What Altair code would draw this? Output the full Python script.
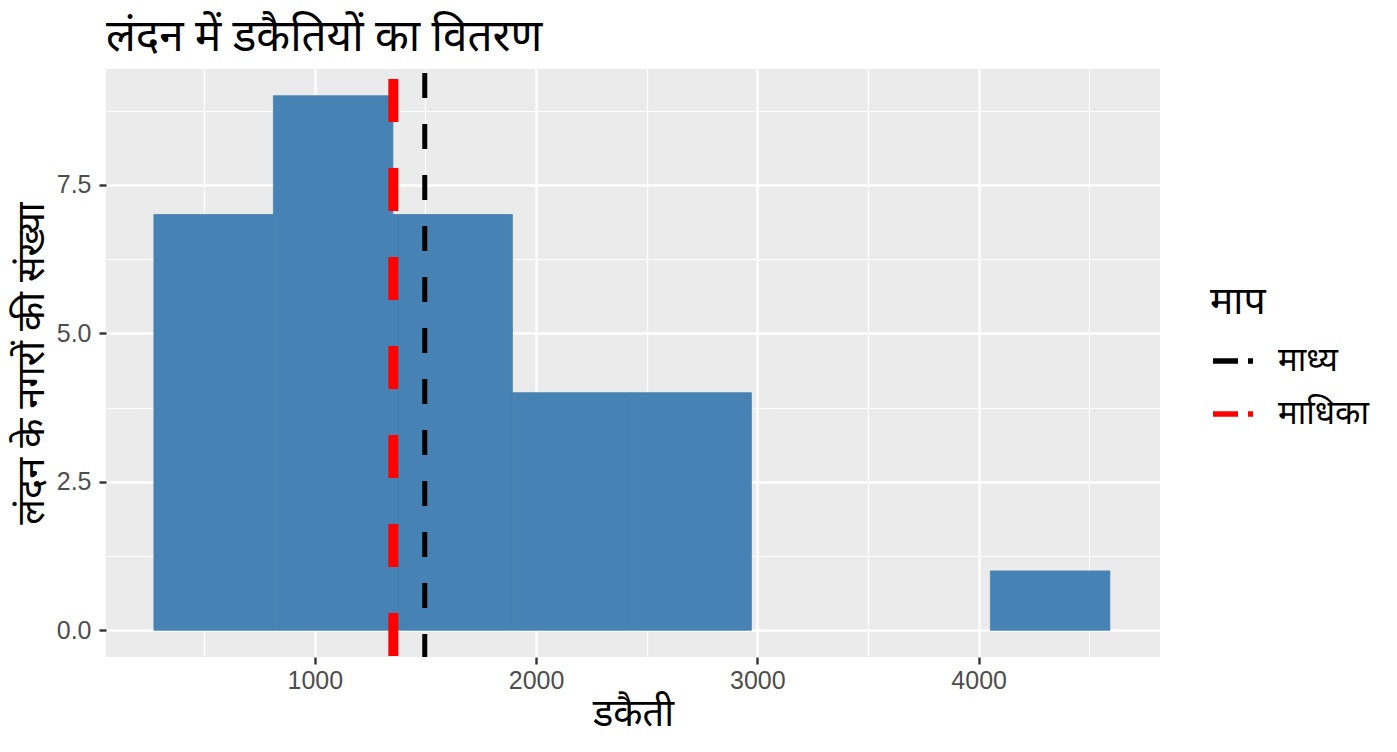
import altair as alt
import pandas as pd

# histogram bins
bin_start = [273, 813, 1353, 1893, 2433, 2973, 3513, 4053]
bin_end = [813, 1353, 1893, 2433, 2973, 3513, 4053, 4593]
counts = [7, 9, 7, 4, 4, 0, 0, 1]

measure_names = ["माध्य", "माधिका"]
measure_values = [1497, 1355]
measure_colors = ["black", "red"]

x_grid = [500, 1000, 1500, 2000, 2500, 3000, 3500, 4000, 4500]
y_grid = [0, 1.25, 2.5, 3.75, 5, 6.25, 7.5, 8.75]

FONT = "Noto Sans"
TICK_FONT = "Liberation Sans"

bins = pd.DataFrame({"start": bin_start, "end": bin_end, "count": counts})
measures = pd.DataFrame({"name": measure_names, "value": measure_values})

x_scale = alt.Scale(domain=[56.5, 4819.5], nice=False, zero=False)
y_scale = alt.Scale(domain=[-0.45, 9.45], nice=False, zero=False)


def axis(values, step, fmt, title, title_pad, label_pad):
    major = f"datum.value % {step} === 0"
    return alt.Axis(
        values=values,
        labelExpr=f"{major} ? format(datum.value, '{fmt}') : ''",
        title=title,
        titleFont=FONT, titleFontSize=38, titleFontWeight="normal", titleColor="black",
        titlePadding=title_pad,
        labelFont=TICK_FONT, labelFontSize=25, labelColor="#4D4D4D", labelPadding=label_pad,
        gridColor="white",
        gridWidth={"condition": {"test": major, "value": 2.4}, "value": 1.2},
        tickColor="#333333", tickWidth=2.4, tickSize=7,
        tickOpacity={"condition": {"test": major, "value": 1}, "value": 0},
        domain=False,
    )


x_axis = axis(x_grid, 1000, "d", "डकैती", 2, 4)
y_axis = axis(y_grid, 2.5, ".1f", "लंदन के नगरों की संख्या", 5, 8)

bars = alt.Chart(bins).transform_filter("datum.count > 0").mark_rect(
    color="#4682B4", stroke="#4682B4", strokeWidth=0.8
).encode(
    x=alt.X("start:Q", scale=x_scale, axis=x_axis),
    x2="end:Q",
    y=alt.Y("count:Q", scale=y_scale, axis=y_axis),
    y2=alt.datum(0),
)

color = alt.Color(
    "name:N",
    scale=alt.Scale(domain=measure_names, range=measure_colors),
    legend=alt.Legend(
        title="माप", orient="none", legendX=1104, legendY=214,
        titleFont=FONT, titleFontSize=39, titleFontWeight="normal", titleColor="black",
        titlePadding=16,
        labelFont=FONT, labelFontSize=33, labelColor="black", labelOffset=22,
        symbolType="stroke", symbolSize=1600, symbolStrokeWidth=5.5,
        symbolDash=[25, 10], rowPadding=13,
    ),
)

mean_rule = alt.Chart(measures).transform_filter(
    alt.datum.name == measure_names[0]
).mark_rule(strokeWidth=5, strokeDash=[25, 26], strokeDashOffset=47).encode(
    x=alt.X("value:Q", scale=x_scale), color=color
)
median_rule = alt.Chart(measures).transform_filter(
    alt.datum.name == measure_names[1]
).mark_rule(strokeWidth=10, strokeDash=[43, 46], strokeDashOffset=79).encode(
    x=alt.X("value:Q", scale=x_scale), color=color
)

chart = alt.layer(bars, mean_rule, median_rule).properties(
    width=1054,
    height=588,
    background="white",
    autosize=alt.AutoSizeParams(type="none"),
    padding={"left": 98, "top": 61, "right": 229, "bottom": 87},
    title=alt.TitleParams(
        "लंदन में डकैतियों का वितरण", anchor="start", frame="group", font=FONT,
        fontSize=44, fontWeight="normal", color="black", offset=4,
    ),
).configure_view(fill="#EBEBEB", strokeWidth=0)

chart.save("out.html", embed_options={"renderer": "svg", "actions": False})
